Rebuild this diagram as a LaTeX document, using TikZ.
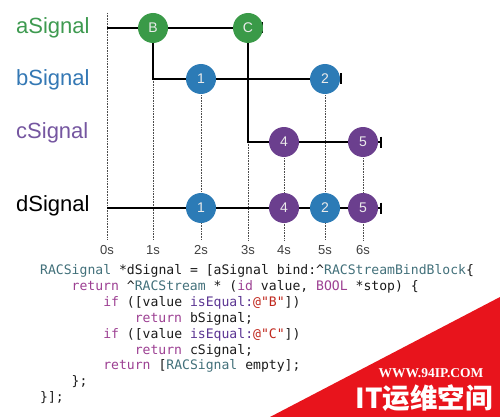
\documentclass[tikz,border=0pt]{standalone}
\usepackage{fontspec}
\setmainfont{Liberation Sans}
\setmonofont{DejaVu Sans Mono}
\newfontfamily\cjkfont{Noto Sans CJK SC}
\newfontfamily\wmfont{Liberation Serif}
\usetikzlibrary{arrows.meta,backgrounds}
\definecolor{sgreen}{HTML}{3A9A48}
\definecolor{sblue}{HTML}{2C7BB6}
\definecolor{spurple}{HTML}{6B3F8E}
\definecolor{lgreen}{HTML}{3E9A50}
\definecolor{lblue}{HTML}{3478B4}
\definecolor{lpurple}{HTML}{7556A0}
\definecolor{cteal}{HTML}{42707A}
\definecolor{ckw}{HTML}{9C3F92}
\definecolor{cmeth}{HTML}{5B3592}
\definecolor{cstr}{HTML}{C0281E}
\definecolor{ctext}{HTML}{1A1A1A}
\definecolor{wmred}{HTML}{E8141C}
\newcommand{\ct}[1]{\textcolor{cteal}{#1}}
\newcommand{\ck}[1]{\textcolor{ckw}{#1}}
\newcommand{\cm}[1]{\textcolor{cmeth}{#1}}
\newcommand{\cs}[1]{\textcolor{cstr}{#1}}
\begin{document}
\begin{tikzpicture}[x=1pt,y=-1pt,
  ev/.style={circle,minimum size=30pt,inner sep=0pt,text=white!92!black,
    font=\fontsize{14}{16}\selectfont},
  rowlabel/.style={anchor=base west,inner sep=0pt,font=\fontsize{22}{26}\selectfont},
  ticklabel/.style={inner sep=0pt,text=black!75,font=\fontsize{13}{15}\selectfont},
  sig/.style={line width=2.2pt,black},
  endsig/.style={sig,-{Bar[width=11pt]}},
  gridline/.style={line width=0.7pt,dash pattern=on 0.7pt off 0.9pt,black!70},
  codeline/.style={anchor=base west,inner sep=0pt,text=ctext,
    font=\ttfamily\fontsize{13.1}{15}\selectfont},
  wm/.style={inner sep=0pt,text=white}]
\useasboundingbox (0,0) rectangle (500,417);

% row labels
\node[rowlabel,text=lgreen] (la) at (16,34) {aSignal};
\node[rowlabel,text=lblue] (lb) at (16,86) {bSignal};
\node[rowlabel,text=lpurple] (lc) at (16,139) {cSignal};
\node[rowlabel,text=black] (ld) at (16,211) {dSignal};

% events
\node[ev,fill=sgreen] (B) at (153,28) {B};
\node[ev,fill=sgreen] (C) at (248,28) {C};
\node[ev,fill=sblue] (b1) at (201,79) {1};
\node[ev,fill=sblue] (b2) at (325,79) {2};
\node[ev,fill=spurple] (c4) at (284,142) {4};
\node[ev,fill=spurple] (c5) at (363,142) {5};
\node[ev,fill=sblue] (d1) at (201,208) {1};
\node[ev,fill=spurple] (d4) at (284,208) {4};
\node[ev,fill=sblue] (d2) at (325,208) {2};
\node[ev,fill=spurple] (d5) at (363,208) {5};

% coordinates
\coordinate (a0) at (107,28);
\coordinate (aE) at (263,28);
\coordinate (b0) at (153,79);
\coordinate (bE) at (342,79);
\coordinate (c0) at (248,142);
\coordinate (cE) at (382,142);
\coordinate (d0) at (107,208);
\coordinate (dE) at (382,208);
\coordinate (g0top) at (107,13);

% time labels
\node[ticklabel] (t0) at (107,250) {0s};
\node[ticklabel] (t1) at (153,250) {1s};
\node[ticklabel] (t2) at (201,250) {2s};
\node[ticklabel] (t3) at (248,250) {3s};
\node[ticklabel] (t4) at (284,250) {4s};
\node[ticklabel] (t5) at (325,250) {5s};
\node[ticklabel] (t6) at (363,250) {6s};

\begin{pgfonlayer}{background}
  % dotted time lines
  \draw[gridline] (g0top) -- ([yshift=5pt]t0.north);
  \draw[gridline] (b0) -- ([yshift=5pt]t1.north);
  \draw[gridline] (b1.center) -- ([yshift=5pt]t2.north);
  \draw[gridline] (c0) -- ([yshift=5pt]t3.north);
  \draw[gridline] (c4.center) -- ([yshift=5pt]t4.north);
  \draw[gridline] (b2.center) -- ([yshift=5pt]t5.north);
  \draw[gridline] (c5.center) -- ([yshift=5pt]t6.north);
  % signal lines
  \draw[endsig] (a0) -- (aE);
  \draw[endsig] (B.center) -- (b0) -- (bE);
  \draw[endsig] (C.center) -- (c0) -- (cE);
  \draw[endsig] (d0) -- (dE);
\end{pgfonlayer}

% code
\node[codeline] (k1) at (40,274.5) {\ct{RACSignal} *dSignal = [aSignal bind:\textasciicircum\ct{RACStreamBindBlock}\{};
\node[codeline] (k2) at (71.5,290.4) {\ck{return} \textasciicircum\ct{RACStream} * (\ck{id} value, \ck{BOOL} *stop) \{};
\node[codeline] (k3) at (103.1,306.3) {\ck{if} ([value \cm{isEqual:}\cs{@"B"}])};
\node[codeline] (k4) at (134.6,322.2) {\ck{return} bSignal;};
\node[codeline] (k5) at (103.1,338.1) {\ck{if} ([value \cm{isEqual:}\cs{@"C"}])};
\node[codeline] (k6) at (134.6,354) {\ck{return} cSignal;};
\node[codeline] (k7) at (103.1,369.9) {\ck{return} [\ct{RACSignal} empty];};
\node[codeline] (k8) at (71.5,385.8) {\};};
\node[codeline] (k9) at (40,401.7) {\}];};

% watermark
\fill[wmred] (270,417) -- (500,297) -- (500,417) -- cycle;
\node[wm,font=\wmfont\bfseries\fontsize{13.5}{15}\selectfont] (wm1) at (431,373) {WWW.94IP.COM};
\node[wm,font=\cjkfont\bfseries\fontsize{27.5}{30}\selectfont] (wm2) at (424,398) {IT运维空间};
\end{tikzpicture}
\end{document}
